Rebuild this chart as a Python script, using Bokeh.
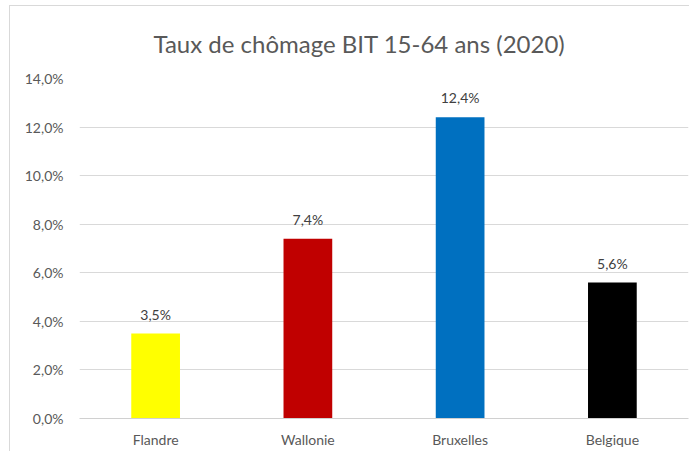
from bokeh.plotting import figure
from bokeh.models import ColumnDataSource, FixedTicker, LabelSet, Range1d, InlineStyleSheet
from bokeh.core.properties import value
from bokeh.embed import file_html
from bokeh.resources import INLINE

regions = ["Flandre", "Wallonie", "Bruxelles", "Belgique"]
rates = [3.5, 7.4, 12.4, 5.6]
rate_labels = ["3,5%", "7,4%", "12,4%", "5,6%"]
bar_colors = ["#FFFF00", "#C00000", "#0070C0", "#000000"]
y_ticks = [0, 2, 4, 6, 8, 10, 12, 14]
y_tick_labels = ["0,0%", "2,0%", "4,0%", "6,0%", "8,0%", "10,0%", "12,0%", "14,0%"]
title_text = "Taux de chômage BIT 15-64 ans (2020)"

FONT = "Lato"

src = ColumnDataSource(dict(x=regions, top=rates, lab=rate_labels, color=bar_colors))

p = figure(x_range=regions, width=680, height=446, output_backend="svg",
           toolbar_location=None, title=title_text)
p.margin = (6, 0, 0, 10)
p.stylesheets = [InlineStyleSheet(css=":host { box-shadow: -1px -1px 0 0 #d9d9d9; }")]
p.y_range = Range1d(0, 14)
p.min_border_left = 69
p.min_border_right = 2
p.min_border_top = 72
p.min_border_bottom = 34
p.outline_line_color = None
p.background_fill_color = "white"
p.border_fill_color = "white"

p.title.align = "left"
p.title.offset = 74
p.title.text_font = FONT
p.title.text_font_size = "24px"
p.title.text_font_style = "normal"
p.title.text_color = "#595959"
p.title.standoff = 41

p.vbar(x="x", top="top", width=0.32, fill_color="color", line_color=None, source=src)

labels = LabelSet(x="x", y="top", text="lab", source=src, y_offset=11,
                  text_align="center", text_baseline="bottom",
                  text_font=value(FONT), text_font_size="14px", text_color="#404040")
p.add_layout(labels)

p.yaxis.ticker = FixedTicker(ticks=y_ticks)
p.yaxis.major_label_overrides = {t: l for t, l in zip(y_ticks, y_tick_labels)}
p.yaxis.axis_line_color = None
p.yaxis.major_tick_line_color = None
p.yaxis.major_tick_out = 0
p.yaxis.major_tick_in = 0
p.yaxis.minor_tick_line_color = None
p.yaxis.major_label_standoff = 16
p.yaxis.major_label_text_font = FONT
p.yaxis.major_label_text_font_size = "14px"
p.yaxis.major_label_text_color = "#595959"

p.xaxis.axis_line_color = "#d0d0d0"
p.xaxis.axis_line_width = 1
p.xaxis.major_tick_line_color = None
p.xaxis.major_tick_out = 0
p.xaxis.major_tick_in = 0
p.xaxis.minor_tick_line_color = None
p.xaxis.major_label_standoff = 12
p.xaxis.major_label_text_font = FONT
p.xaxis.major_label_text_font_size = "14px"
p.xaxis.major_label_text_color = "#595959"

p.xgrid.grid_line_color = None
p.ygrid.grid_line_color = "#d9d9d9"
p.ygrid.grid_line_width = 1

open("out.html", "w").write(file_html(p, INLINE))
